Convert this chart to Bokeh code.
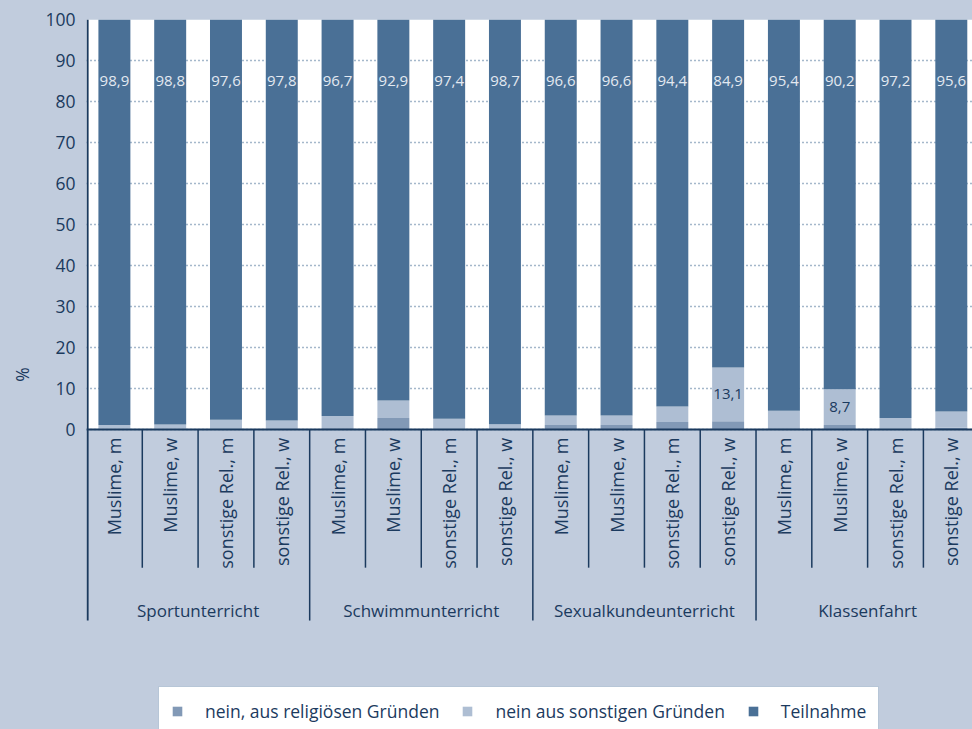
import numpy as np
from bokeh.plotting import figure
from bokeh.models import (ColumnDataSource, Range1d, FixedTicker, Span, BoxAnnotation,
                          Legend, LegendItem)
from bokeh.core.properties import value
from bokeh.embed import file_html
from bokeh.resources import INLINE

# ---------------- data ----------------
groups = ["Sportunterricht", "Schwimmunterricht", "Sexualkundeunterricht", "Klassenfahrt"]
subgroups = ["Muslime, m", "Muslime, w", "sonstige Rel., m", "sonstige Rel., w"]
teilnahme = [98.9, 98.8, 97.6, 97.8, 96.7, 92.9, 97.4, 98.7,
             96.6, 96.6, 94.4, 84.9, 95.4, 90.2, 97.2, 95.6]
religioes = [0.2, 0.2, 0.1, 0.1, 0.3, 2.8, 0.1, 0.1,
             1.1, 1.1, 1.8, 2.0, 0.3, 1.1, 0.1, 0.4]
sonstige = [0.9, 1.0, 2.3, 2.1, 3.0, 4.3, 2.5, 1.2,
            2.3, 2.3, 3.8, 13.1, 4.3, 8.7, 2.7, 4.0]
series_names = ["nein, aus religiösen Gründen", "nein aus sonstigen Gründen", "Teilnahme"]
y_ticks = list(range(0, 101, 10))

# ---------------- style ----------------
BG = "#c1ccdd"
NAVY = "#1b3a5e"
C_REL = "#8299b6"
C_SON = "#aebed3"
C_TEI = "#4a7096"
GRID = "#4a7096"
FONT = "Open Sans"

n_groups = len(groups)
n_sub = len(subgroups)
n = len(teilnahme)

rel = np.array(religioes)
son = np.array(sonstige)
tei = np.array(teilnahme)
xc = np.arange(n) + 0.5

fmt = lambda v: f"{v:.1f}".replace(".", ",")

src = ColumnDataSource(dict(
    x=xc,
    rel_top=rel,
    son_top=rel + son,
    tei_top=rel + son + tei,
    son_mid=rel + son / 2,
    tei_lbl=[fmt(v) for v in tei],
    son_lbl=[fmt(v) if v >= 5 else "" for v in son],
    cat=[subgroups[i % n_sub] for i in range(n)],
))

p = figure(width=972, height=729,
           x_range=Range1d(0, n - 0.12), y_range=Range1d(-73.17, 100),
           output_backend="svg", toolbar_location=None, x_axis_location=None,
           min_border_left=86, min_border_right=0, min_border_top=19, min_border_bottom=0)
p.border_fill_color = BG
p.background_fill_color = BG
p.outline_line_color = None
p.xgrid.visible = False

# y axis
ax = p.yaxis[0]
ax.ticker = FixedTicker(ticks=y_ticks)
ax.axis_line_color = None
ax.major_tick_line_color = None
ax.minor_tick_line_color = None
ax.major_tick_out = 0
ax.major_tick_in = 0
ax.major_label_standoff = 11
ax.major_label_text_font = FONT
ax.major_label_text_font_size = "17.5px"
ax.major_label_text_color = NAVY
ax.axis_label = "%"
ax.axis_label_text_font = FONT
ax.axis_label_text_font_size = "17.5px"
ax.axis_label_text_font_style = "normal"
ax.axis_label_text_color = NAVY
ax.axis_label_standoff = 8

p.ygrid.grid_line_color = GRID
p.ygrid.grid_line_dash = "1 3"
p.ygrid.grid_line_width = 1.3

# white plotting area between 0 and 100
p.add_layout(BoxAnnotation(bottom=0, top=100, fill_color="white", fill_alpha=1,
                           line_color=None, level="image"))

# bars
W = 0.573
r_rel = p.vbar(x="x", bottom=0, top="rel_top", width=W, source=src, fill_color=C_REL, line_color=None)
r_son = p.vbar(x="x", bottom="rel_top", top="son_top", width=W, source=src, fill_color=C_SON, line_color=None)
r_tei = p.vbar(x="x", bottom="son_top", top="tei_top", width=W, source=src, fill_color=C_TEI, line_color=None)

# value labels
p.text(x="x", y=85, text="tei_lbl", source=src, text_align="center", text_baseline="middle",
       text_font=value(FONT), text_font_size="15px", text_color="#e3e9f1")
p.text(x="x", y="son_mid", text="son_lbl", source=src, text_align="center", text_baseline="middle",
       text_font=value(FONT), text_font_size="15px", text_color=NAVY)

# zero line
p.add_layout(Span(location=0, dimension="width", line_color=NAVY, line_width=2))

# separators and left axis line
sub_b = np.arange(1, n)
is_grp = (sub_b % n_sub) == 0
p.segment(x0=sub_b[~is_grp], y0=0, x1=sub_b[~is_grp], y1=-33.7, line_color=NAVY, line_width=1.5)
p.segment(x0=sub_b[is_grp], y0=0, x1=sub_b[is_grp], y1=-46.6, line_color=NAVY, line_width=1.5)
p.segment(x0=[0.02], y0=[100], x1=[0.02], y1=[-46.6], line_color=NAVY, line_width=2)

# category labels
p.text(x="x", y=-2, text="cat", source=src, angle=np.pi / 2, text_align="right",
       text_baseline="middle", text_font=value(FONT), text_font_size="18px", text_color=NAVY)
gx = np.arange(n_groups) * n_sub + n_sub / 2
p.text(x=gx, y=[-44.1] * n_groups, text=groups, text_align="center", text_baseline="middle",
       text_font=value(FONT), text_font_size="17px", text_color=NAVY)

# legend
items = [LegendItem(label=name, renderers=[r]) for name, r in zip(series_names, [r_rel, r_son, r_tei])]
legend = Legend(items=items, orientation="horizontal", location=(72, -7),
                glyph_width=12, glyph_height=12, label_standoff=22, spacing=22,
                padding=12, margin=0,
                label_text_font=FONT, label_text_font_size="17.5px", label_text_color=NAVY,
                border_line_color="#6f8db0", border_line_width=1,
                background_fill_color="white", background_fill_alpha=1)
p.add_layout(legend)

html = file_html(p, INLINE)
html = html.replace("<body>", '<body style="background-color:#c1ccdd">')
open("out.html", "w").write(html)
